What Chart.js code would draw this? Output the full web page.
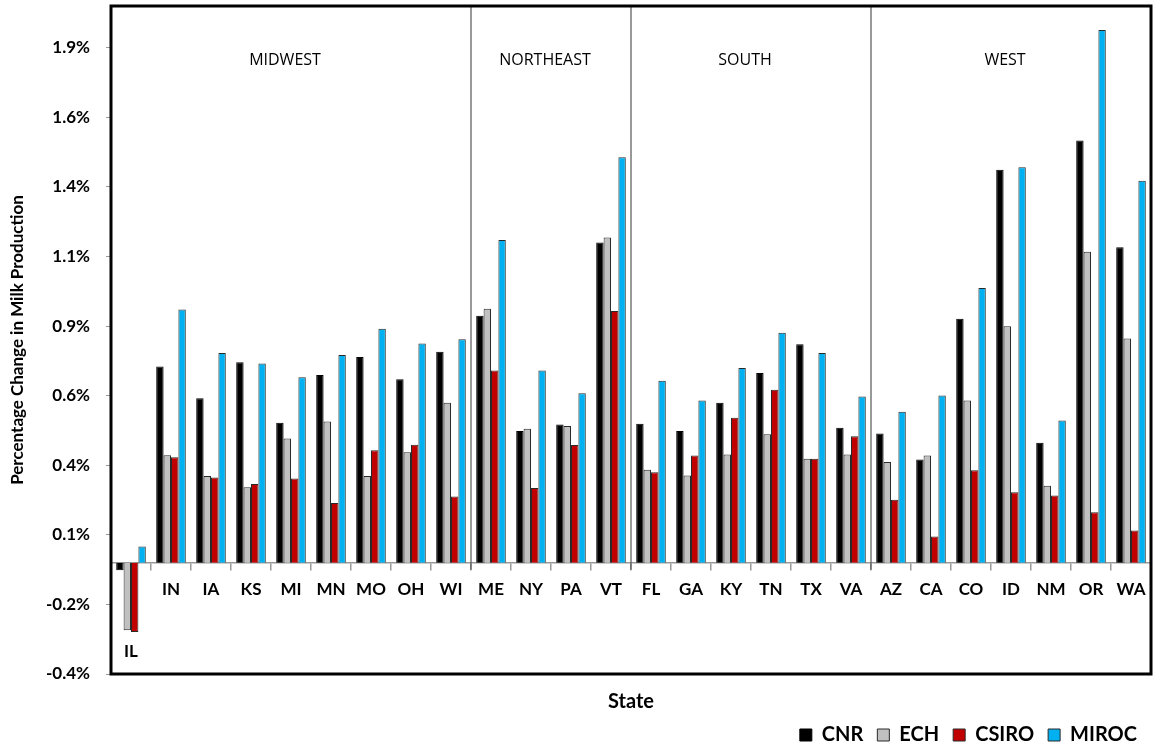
<!DOCTYPE html>
<html>
<head>
<meta charset="utf-8">
<script src="https://cdn.jsdelivr.net/npm/chart.js@4.4.0/dist/chart.umd.min.js"></script>
<style>
html,body{margin:0;padding:0;background:#fff;}
</style>
</head>
<body>
<canvas id="myChart" width="1156" height="747"></canvas>
<script>
const states = ['IL','IN','IA','KS','MI','MN','MO','OH','WI','ME','NY','PA','VT','FL','GA','KY','TN','TX','VA','AZ','CA','CO','ID','NM','OR','WA'];
const regions = ['MIDWEST','NORTHEAST','SOUTH','WEST'];
const regionSizes = [9, 4, 6, 7];

// percentage change per model
const cnr   = [-0.027,0.705,0.591,0.720,0.503,0.674,0.739,0.659,0.758,0.887,0.473,0.496,1.150,0.499,0.473,0.575,0.681,0.785,0.485,0.464,0.371,0.876,1.412,0.431,1.517,1.133];
const ech   = [-0.243,0.386,0.311,0.271,0.446,0.507,0.311,0.397,0.575,0.912,0.481,0.491,1.168,0.334,0.313,0.389,0.461,0.373,0.389,0.362,0.385,0.583,0.849,0.276,1.117,0.805];
const csiro = [-0.249,0.379,0.306,0.283,0.302,0.214,0.404,0.424,0.238,0.690,0.268,0.423,0.904,0.325,0.385,0.521,0.621,0.373,0.454,0.226,0.094,0.332,0.253,0.241,0.181,0.116];
const miroc = [0.058,0.910,0.753,0.716,0.666,0.746,0.840,0.787,0.803,1.159,0.690,0.609,1.457,0.654,0.583,0.699,0.826,0.753,0.597,0.542,0.601,0.987,1.421,0.511,1.914,1.372];

const yTickValues = [-0.4,-0.15,0.1,0.35,0.6,0.85,1.1,1.35,1.6,1.85];
const yTickLabels = ['-0.4%','-0.2%','0.1%','0.4%','0.6%','0.9%','1.1%','1.4%','1.6%','1.9%'];

Chart.defaults.font.family = 'Lato';
Chart.defaults.color = '#000';

// region dividers, region names and the heavy frame
const regionPlugin = {
    id: 'regions',
    afterDatasetsDraw(chart) {
        const {ctx, chartArea, scales} = chart;
        const xs = scales.xz;
        const zeroY = scales.y.getPixelForValue(0);
        const half = (xs.getPixelForValue(1) - xs.getPixelForValue(0)) / 2;
        let start = 0;
        ctx.save();
        regionSizes.forEach((n, i) => {
            const left = xs.getPixelForValue(start) - half;
            const right = xs.getPixelForValue(start + n - 1) + half;
            if (i > 0) {
                ctx.strokeStyle = '#555';
                ctx.lineWidth = 1.2;
                ctx.beginPath();
                ctx.moveTo(left, chartArea.top);
                ctx.lineTo(left, zeroY + 7);
                ctx.stroke();
            }
            ctx.fillStyle = '#000';
            ctx.font = '16px "Open Sans"';
            ctx.textAlign = 'center';
            ctx.textBaseline = 'middle';
            ctx.fillText(regions[i], (left + right) / 2 - 6, chartArea.top + 54);
            start += n;
        });
        ctx.strokeStyle = '#000';
        ctx.lineWidth = 3;
        ctx.strokeRect(chartArea.left, chartArea.top, chartArea.width, chartArea.height);
        ctx.restore();
    }
};

const makeSet = (label, data, color, border) => ({
    label: label,
    data: data,
    backgroundColor: color,
    borderColor: border,
    borderWidth: 1,
    categoryPercentage: 0.74,
    barPercentage: 1.0,
    xAxisID: 'x'
});

const ctx = document.getElementById('myChart').getContext('2d');
const myChart = new Chart(ctx, {
    type: 'bar',
    data: {
        labels: states,
        datasets: [
            makeSet('CNR', cnr, '#000000', '#000000'),
            makeSet('ECH', ech, '#c0c0c0', '#2a2a2a'),
            makeSet('CSIRO', csiro, '#c00000', '#2a2a2a'),
            makeSet('MIROC', miroc, '#00b0f0', '#2a2a2a')
        ]
    },
    options: {
        responsive: false,
        animation: false,
        layout: {padding: {top: 6, right: 5, left: 0, bottom: -8}},
        plugins: {
            tooltip: {enabled: false},
            legend: {
                position: 'bottom',
                align: 'end',
                labels: {
                    boxWidth: 12,
                    boxHeight: 12,
                    padding: 14,
                    font: {size: 20, weight: 'bold'},
                    color: '#000'
                }
            }
        },
        scales: {
            x: {
                type: 'category',
                position: 'bottom',
                offset: true,
                grid: {display: false, offset: true},
                border: {display: false},
                ticks: {display: false},
                title: {display: true, text: 'State', font: {size: 20, weight: 'bold'}, padding: {top: 0, bottom: -3}},
                afterFit: (s) => { s.height = 37; }
            },
            xz: {
                type: 'category',
                axis: 'x',
                position: {y: 0},
                offset: true,
                grid: {offset: true, drawOnChartArea: false, tickLength: 7, color: '#999', lineWidth: 1.5},
                border: {color: '#999', width: 1.5},
                ticks: {
                    autoSkip: false,
                    maxRotation: 0,
                    padding: 10,
                    font: {size: 17, weight: 'bold'},
                    callback: function(value, index) {
                        const low = Math.min(cnr[index], ech[index], csiro[index], miroc[index]);
                        return low < -0.1 ? ['', '', '', states[index]] : states[index];
                    }
                }
            },
            y: {
                min: -0.4,
                max: 2.0,
                grid: {drawOnChartArea: false, tickLength: 5, color: '#999'},
                border: {display: false},
                afterBuildTicks: (s) => { s.ticks = yTickValues.map(v => ({value: v})); },
                afterFit: (s) => { s.width = 111; s.paddingTop = 0; s.paddingBottom = 0; },
                ticks: {
                    padding: 16,
                    font: {size: 17, weight: 'bold'},
                    callback: function(value, index) { return yTickLabels[index]; }
                },
                title: {
                    display: true,
                    text: 'Percentage Change in Milk Production',
                    font: {size: 17, weight: 'bold'},
                    padding: {top: 7, bottom: 0}
                }
            }
        }
    },
    plugins: [regionPlugin]
});
</script>
</body>
</html>
